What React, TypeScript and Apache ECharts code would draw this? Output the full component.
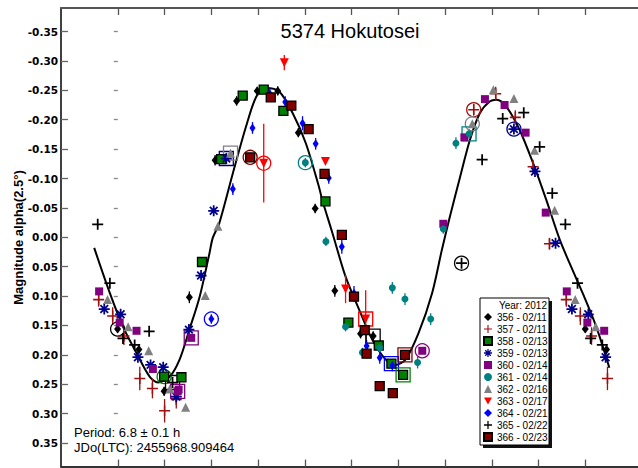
import React, { useEffect, useRef } from "react";
import * as echarts from "echarts";

// ---- Data (phase, magnitude, error) per session, phases in [0,1) ----
const sessionNames = [
  "356 - 02/11", "357 - 02/11", "358 - 02/13", "359 - 02/13", "360 - 02/14", "361 - 02/14",
  "362 - 02/16", "363 - 02/17", "364 - 02/21", "365 - 02/22", "366 - 02/23",
];

const s356 = [
  [0.208, -0.131, 0.009], [0.254, -0.232, 0.008], [0.298, -0.249, 0.007], [0.342, -0.249, 0.008],
  [0.386, -0.178, 0.008], [0.422, -0.049, 0.008], [0.464, 0.091, 0.01], [0.519, 0.164, 0.008],
  [0.546, 0.168, 0.008], [0.153, 0.102, 0.01], [0.9995, 0.156, 0.006], [0.045, 0.191, 0.008],
  [0.099, 0.262, 0.008],
];
const s357 = [
  [0.959, 0.106, 0.012], [0.989, 0.134, 0.015], [0.013, 0.168, 0.015], [0.047, 0.24, 0.02],
  [0.074, 0.257, 0.017], [0.1, 0.295, 0.02], [0.125, 0.276, 0.015], [0.761, -0.217, 0.01],
  [0.808, -0.244, 0.012], [0.85, -0.204, 0.012], [0.888, -0.12, 0.012], [0.923, 0.011, 0.01],
];
const s358 = [
  [0.267, -0.241, 0.006], [0.312, -0.251, 0.006], [0.354, -0.215, 0.006], [0.221, -0.133, 0.006],
  [0.18, 0.042, 0.006], [0.099, 0.237, 0.006], [0.136, 0.238, 0.006], [0.444, -0.061, 0.006],
  [0.493, 0.145, 0.008], [0.558, 0.184, 0.008], [0.585, 0.215, 0.008], [0.61, 0.234, 0.008],
];
const s359 = [
  [0.971, 0.122, 0], [0.006, 0.131, 0], [0.043, 0.204, 0], [0.07, 0.217, 0], [0.097, 0.221, 0],
  [0.125, 0.271, 0], [0.152, 0.157, 0], [0.178, 0.065, 0], [0.205, -0.045, 0], [0.232, -0.134, 0],
  [0.847, -0.184, 0], [0.892, -0.112, 0], [0.936, 0.01, 0],
];
const s360 = [
  [0.96, 0.092, 0], [0.004, 0.145, 0], [0.04, 0.159, 0], [0.075, 0.224, 0], [0.13, 0.259, 0],
  [0.128, 0.262, 0], [0.157, 0.171, 0], [0.651, 0.193, 0], [0.696, -0.023, 0], [0.741, -0.17, 0],
  [0.785, -0.235, 0], [0.827, -0.225, 0], [0.872, -0.178, 0], [0.915, -0.042, 0],
];
const s361 = [
  [0.401, -0.127, 0.008], [0.445, 0.007, 0.008], [0.487, 0.152, 0.008], [0.523, 0.196, 0.008],
  [0.56, 0.188, 0.008], [0.587, 0.086, 0.01], [0.614, 0.105, 0.01], [0.641, 0.213, 0.01],
  [0.669, 0.139, 0.01], [0.696, -0.014, 0.008], [0.723, -0.16, 0.01], [0.751, -0.176, 0.008],
];
const s362 = [
  [0.978, 0.106, 0], [0.022, 0.152, 0], [0.066, 0.193, 0], [0.111, 0.258, 0], [0.145, 0.289, 0],
  [0.187, 0.099, 0], [0.214, -0.019, 0], [0.241, -0.143, 0], [0.758, -0.193, 0], [0.803, -0.251, 0],
  [0.847, -0.236, 0], [0.891, -0.148, 0], [0.934, -0.046, 0],
];
const s363 = [
  [0.356, -0.297, 0.013], [0.312, -0.126, 0.067], [0.444, -0.129, 0], [0.487, 0.088, 0.024],
  [0.53, 0.139, 0.049],
];
const s364 = [
  [0.246, -0.082, 0.01], [0.288, -0.186, 0.01], [0.325, -0.244, 0.01], [0.358, -0.23, 0.01],
  [0.395, -0.194, 0.012], [0.423, -0.159, 0.01], [0.2, 0.139, 0.008], [0.451, -0.101, 0.01],
  [0.479, 0.016, 0.012], [0.505, 0.095, 0.012], [0.532, 0.185, 0.01], [0.56, 0.205, 0.01],
  [0.587, 0.218, 0.01],
];
const s365 = [
  [0.957, -0.022, 0], [0.983, 0.078, 0], [0.011, 0.172, 0], [0.036, 0.183, 0], [0.067, 0.16, 0],
  [0.117, 0.247, 0], [0.735, 0.044, 0], [0.779, -0.132, 0], [0.823, -0.202, 0], [0.868, -0.212, 0],
  [0.902, -0.154, 0], [0.929, -0.075, 0],
];
const s366 = [
  [0.283, -0.136, 0.008], [0.327, -0.238, 0.008], [0.371, -0.224, 0.008], [0.408, -0.184, 0.008],
  [0.442, -0.108, 0.008], [0.479, -0.004, 0.008], [0.505, 0.101, 0.008], [0.528, 0.158, 0.008],
  [0.532, 0.198, 0.008], [0.56, 0.253, 0.008], [0.588, 0.265, 0.008], [0.614, 0.2, 0.008],
];
const sessions = [s356, s357, s358, s359, s360, s361, s362, s363, s364, s365, s366];

// Highlight markers (plotted phase, magnitude, session index)
const ringCircles = [
  [-0.0005, 0.156, 0], [0.735, 0.044, 9], [0.761, -0.217, 1], [0.758, -0.193, 6], [0.847, -0.184, 3],
  [0.2, 0.139, 8], [0.099, 0.237, 2], [0.283, -0.136, 10], [0.312, -0.126, 7], [0.401, -0.127, 5],
  [0.651, 0.193, 4],
];
const ringSquares = [
  [0.232, -0.134, 3], [0.241, -0.143, 6], [0.751, -0.176, 5], [0.117, 0.247, 9], [0.128, 0.262, 4],
  [0.157, 0.171, 4], [0.53, 0.139, 7], [0.546, 0.168, 0], [0.585, 0.215, 8], [0.61, 0.234, 2],
  [0.614, 0.2, 10],
];

// Fourier fit curve
const curvePhase = [
  -0.0505, -0.017, 0.011, 0.04, 0.068, 0.086, 0.111, 0.132, 0.153, 0.175, 0.196, 0.203, 0.217,
  0.246, 0.274, 0.296, 0.317, 0.345, 0.374, 0.402, 0.43, 0.437, 0.459, 0.487, 0.516, 0.544, 0.573,
  0.594, 0.615, 0.643, 0.672, 0.693, 0.71, 0.732, 0.753, 0.774, 0.795, 0.81, 0.831, 0.859, 0.888,
  0.916, 0.945, 0.966, 0.994, 1.023, 1.051,
];
const curveMag = [
  0.018, 0.095, 0.152, 0.197, 0.237, 0.247, 0.237, 0.208, 0.157, 0.101, 0.027, 0.001, -0.024,
  -0.109, -0.188, -0.239, -0.254, -0.248, -0.211, -0.16, -0.086, -0.064, -0.007, 0.067, 0.123, 0.174,
  0.208, 0.217, 0.208, 0.163, 0.095, 0.021, -0.035, -0.103, -0.166, -0.211, -0.231, -0.234, -0.222,
  -0.183, -0.126, -0.064, 0.004, 0.044, 0.095, 0.152, 0.222,
];

const yTicks = [-0.35, -0.3, -0.25, -0.2, -0.15, -0.1, -0.05, 0, 0.05, 0.1, 0.15, 0.2, 0.25, 0.3, 0.35];
const xTicks = [0, 0.1, 0.2, 0.3, 0.4, 0.5, 0.6, 0.7, 0.8, 0.9, 1.0];

const titleText = "5374 Hokutosei";
const yAxisTitle = "Magnitude alpha(2.5°)";
const periodText = "Period: 6.8 ± 0.1 h";
const epochText = "JDo(LTC): 2455968.909464";
const legendTitle = "Year: 2012";

// ---- Styles ----
const colors = [
  "#000000", "#9E1010", "#008000", "#00008C", "#800080", "#008080",
  "#808080", "#FF0000", "#0000FF", "#000000", "#800000",
];
const PLUS_THIN = "path://M4.3,0H5.7V10H4.3Z M0,4.3H10V5.7H0Z";
const PLUS_BOLD = "path://M4.2,0H5.8V10H4.2Z M0,4.2H10V5.8H0Z";
const ASTERISK =
  "path://M0,4.2H10V5.8H0Z M4.2,0H5.8V10H4.2Z M0.93,2.07L2.07,0.93L9.07,7.93L7.93,9.07Z M0.93,7.93L7.93,0.93L9.07,2.07L2.07,9.07Z";
const DOWN_TRI = "path://M0,0H10L5,9Z";
const symbolDefs: any[] = [
  { symbol: "diamond", size: [7, 9] },
  { symbol: PLUS_THIN, size: 11 },
  { symbol: "rect", size: 9, border: "#000" },
  { symbol: ASTERISK, size: 11 },
  { symbol: "rect", size: 8 },
  { symbol: "circle", size: 7 },
  { symbol: "triangle", size: 9 },
  { symbol: DOWN_TRI, size: 9 },
  { symbol: "diamond", size: [6, 9] },
  { symbol: PLUS_BOLD, size: 11 },
  { symbol: "rect", size: 9, border: "#000" },
];

// Legend box geometry
const LEG_X = 480;
const LEG_Y = 298;
const LEG_W = 69;
const LEG_H = 147;

function wrapPhase(pts: number[][]) {
  const out: number[][] = [];
  for (const p of pts) {
    out.push(p);
    if (p[0] < 0.05) out.push([p[0] + 1, p[1], p[2]]);
    if (p[0] > 0.95) out.push([p[0] - 1, p[1], p[2]]);
  }
  return out;
}

function buildOption() {
  const X_MIN = -0.1215;
  const X_MAX = 1.1123;
  const Y_MIN = -0.39;
  const Y_MAX = 0.39;

  const scatterSeries = sessions.map((pts, i) => ({
    name: sessionNames[i],
    type: "scatter",
    xAxisIndex: 0,
    yAxisIndex: 0,
    z: 4,
    symbol: symbolDefs[i].symbol,
    symbolSize: symbolDefs[i].size,
    itemStyle: symbolDefs[i].border
      ? { color: colors[i], borderColor: symbolDefs[i].border, borderWidth: 1.3, opacity: 1 }
      : { color: colors[i], opacity: 1 },
    data: wrapPhase(pts).map((p) => [p[0], p[1]]),
  }));

  const errData: number[][] = [];
  sessions.forEach((pts, i) => {
    wrapPhase(pts).forEach((p) => {
      if (p[2] > 0) errData.push([p[0], p[1], p[2], i]);
    });
  });

  const errSeries = {
    name: "errors",
    type: "custom",
    xAxisIndex: 0,
    yAxisIndex: 0,
    z: 3,
    silent: true,
    data: errData,
    encode: { x: 0, y: 1 },
    renderItem: (_params: any, api: any) => {
      const x = api.value(0);
      const y = api.value(1);
      const e = api.value(2);
      const s = api.value(3);
      const p1 = api.coord([x, y - e]);
      const p2 = api.coord([x, y + e]);
      return {
        type: "line",
        shape: { x1: p1[0], y1: p1[1], x2: p2[0], y2: p2[1] },
        style: { stroke: colors[s], lineWidth: 1.3 },
      };
    },
  };

  const ringCircleSeries = {
    name: "ringsC",
    type: "scatter",
    z: 3,
    symbol: "circle",
    symbolSize: 14,
    data: ringCircles.map((r) => ({
      value: [r[0], r[1]],
      itemStyle: { color: "rgba(0,0,0,0)", borderColor: colors[r[2]], borderWidth: 1.3, opacity: 1 },
    })),
  };
  const ringSquareSeries = {
    name: "ringsS",
    type: "scatter",
    z: 3,
    symbol: "rect",
    symbolSize: 14,
    data: ringSquares.map((r) => ({
      value: [r[0], r[1]],
      itemStyle: { color: "rgba(0,0,0,0)", borderColor: colors[r[2]], borderWidth: 1.3, opacity: 1 },
    })),
  };

  const curveSeries = {
    name: "fit",
    type: "line",
    z: 2,
    smooth: 0.3,
    symbol: "none",
    lineStyle: { color: "#000", width: 2 },
    data: curvePhase.map((p, i) => [p, curveMag[i]]),
  };

  const xAxisBase = {
    type: "value",
    min: X_MIN,
    max: X_MAX,
    splitLine: { show: false },
    axisLabel: { show: false },
  };
  const yAxisBase = {
    type: "value",
    min: Y_MIN,
    max: Y_MAX,
    inverse: true,
    splitLine: { show: false },
  };

  return {
    animation: false,
    backgroundColor: "#ffffff",
    grid: { left: 61, top: 8, right: -2, bottom: 1.4, containLabel: false },
    xAxis: [
      {
        ...xAxisBase,
        position: "bottom",
        axisLine: { show: true, onZero: false, lineStyle: { color: "#333", width: 2 } },
        axisTick: { show: true, inside: true, length: 7, customValues: xTicks, lineStyle: { color: "#555", width: 1.3 } },
      },
      {
        ...xAxisBase,
        position: "top",
        axisLine: { show: true, onZero: false, lineStyle: { color: "#555", width: 2 } },
        axisTick: { show: true, inside: true, length: 7, customValues: xTicks, lineStyle: { color: "#555", width: 1.3 } },
      },
    ],
    yAxis: [
      {
        ...yAxisBase,
        position: "left",
        axisLine: { show: true, onZero: false, lineStyle: { color: "#000", width: 1.5 } },
        axisTick: { show: true, inside: true, length: 7, customValues: yTicks, lineStyle: { color: "#666", width: 1.3 } },
        axisLabel: {
          show: true,
          customValues: yTicks,
          margin: 3,
          formatter: (v: number) => v.toFixed(2),
          fontFamily: "DejaVu Sans",
          fontWeight: "bold",
          fontSize: 10.5,
          color: "#000",
        },
      },
      {
        ...yAxisBase,
        position: "right",
        axisLine: { show: false },
        axisTick: { show: true, inside: true, length: 4, customValues: yTicks, lineStyle: { color: "#888", width: 1.3 } },
        axisLabel: { show: false },
      },
    ],
    legend: {
      data: sessionNames,
      orient: "vertical",
      left: LEG_X,
      top: LEG_Y,
      padding: [13, 1, 2, 3],
      itemWidth: 8,
      itemHeight: 8,
      itemGap: 0,
      selectedMode: false,
      z: 6,
      textStyle: { fontFamily: "Liberation Sans, Arial", fontSize: 10, color: "#000", lineHeight: 12, padding: [0, 0, 0, 0] },
    },
    graphic: [
      {
        type: "rect",
        z: 4,
        shape: { x: LEG_X + 3, y: LEG_Y + 3, width: LEG_W, height: LEG_H },
        style: { fill: "#111" },
      },
      {
        type: "rect",
        z: 5,
        shape: { x: LEG_X, y: LEG_Y, width: LEG_W, height: LEG_H },
        style: { fill: "#fff", stroke: "#000", lineWidth: 1 },
      },
      {
        type: "text",
        x: 350,
        y: 31,
        z: 100,
        style: { text: titleText, fontFamily: "Liberation Sans, Arial", fontSize: 20, fill: "#000", align: "center", verticalAlign: "middle" },
      },
      {
        type: "text",
        x: 18,
        y: 237.5,
        rotation: Math.PI / 2,
        z: 100,
        style: { text: yAxisTitle, fontFamily: "Liberation Sans, Arial", fontWeight: "bold", fontSize: 13, fill: "#000", align: "center", verticalAlign: "middle" },
      },
      {
        type: "text",
        x: 74,
        y: 432,
        z: 100,
        style: { text: periodText, fontFamily: "Liberation Sans, Arial", fontSize: 13, fill: "#000", align: "left", verticalAlign: "middle" },
      },
      {
        type: "text",
        x: 74,
        y: 447.5,
        z: 100,
        style: { text: epochText, fontFamily: "Liberation Sans, Arial", fontSize: 13, fill: "#000", align: "left", verticalAlign: "middle" },
      },
      {
        type: "text",
        x: 547,
        y: 305,
        z: 100,
        style: { text: legendTitle, fontFamily: "Liberation Sans, Arial", fontSize: 10, fill: "#000", align: "right", verticalAlign: "middle" },
      },
    ],
    series: [curveSeries, errSeries, ringCircleSeries, ringSquareSeries, ...scatterSeries],
  };
}

export default function App() {
  const ref = useRef<HTMLDivElement>(null);
  useEffect(() => {
    if (!ref.current) return;
    const chart = echarts.init(ref.current, null, { renderer: "svg" });
    chart.setOption(buildOption() as any);
    return () => chart.dispose();
  }, []);
  return (
    <div
      ref={ref}
      style={{ position: "fixed", left: 0, top: 0, width: 638, height: 468, background: "#fff" }}
    />
  );
}
